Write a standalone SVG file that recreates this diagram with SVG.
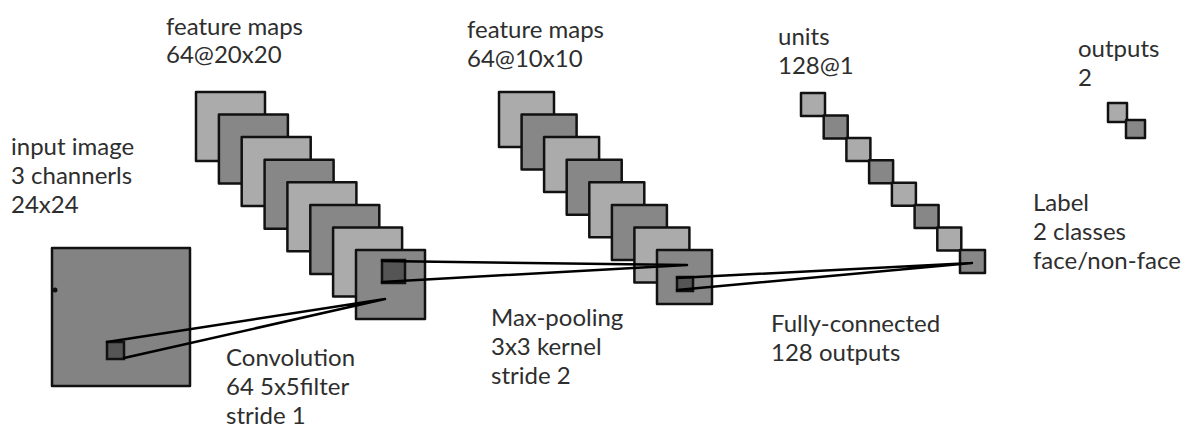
<svg xmlns="http://www.w3.org/2000/svg" width="1188" height="431" viewBox="0 0 1188 431">
  <style>
    .lbl { font-family: Lato, "Open Sans", "DejaVu Sans", sans-serif; font-size: 24px; fill: #2e2e2e; }
    .map { stroke: #111; stroke-width: 2.5; stroke-linejoin: round; }
    .lt { fill: #ababab; }
    .dk { fill: #878787; }
    .img { fill: #838383; }
    .kern { fill: #555; stroke: #111; stroke-width: 2.5; }
    .wire { stroke: #000; stroke-width: 2.5; fill: none; stroke-linecap: round; }
  </style>
  <rect width="1188" height="431" fill="#fff"/>

  <!-- input image 3 channels 24x24 -->
  <g id="input">
    <rect class="map img" x="52" y="248" width="138" height="138"/>
    <circle cx="55" cy="290" r="2.5" fill="#111"/>
    <rect class="kern" x="107" y="342" width="17" height="17"/>
    <text class="lbl" x="11" y="155">input image</text>
    <text class="lbl" x="11" y="184">3 channerls</text>
    <text class="lbl" x="11" y="213">24x24</text>
  </g>

  <!-- first convolution layer: 64 feature maps 20x20 -->
  <g id="conv1">
    <rect class="map lt" x="196" y="92" width="69" height="69"/>
    <rect class="map dk" x="218.9" y="114.6" width="69" height="69"/>
    <rect class="map lt" x="241.7" y="137.1" width="69" height="69"/>
    <rect class="map dk" x="264.6" y="159.7" width="69" height="69"/>
    <rect class="map lt" x="287.4" y="182.3" width="69" height="69"/>
    <rect class="map dk" x="310.3" y="204.9" width="69" height="69"/>
    <rect class="map lt" x="333.1" y="227.4" width="69" height="69"/>
    <rect class="map dk" x="356" y="250" width="69" height="69"/>
    <rect class="kern" x="382" y="260" width="23" height="23"/>
    <text class="lbl" x="166" y="35">feature maps</text>
    <text class="lbl" x="166" y="63">64@20x20</text>
  </g>

  <!-- pooled maps: 64 feature maps 10x10 -->
  <g id="pool1">
    <rect class="map lt" x="499" y="92" width="55" height="55"/>
    <rect class="map dk" x="521.6" y="114.6" width="55" height="55"/>
    <rect class="map lt" x="544.1" y="137.1" width="55" height="55"/>
    <rect class="map dk" x="566.7" y="159.7" width="55" height="55"/>
    <rect class="map lt" x="589.3" y="182.3" width="55" height="55"/>
    <rect class="map dk" x="611.9" y="204.9" width="55" height="55"/>
    <rect class="map lt" x="634.4" y="227.4" width="55" height="55"/>
    <rect class="map dk" x="657" y="250" width="55" height="54"/>
    <rect class="kern" x="677" y="277" width="16" height="14"/>
    <text class="lbl" x="467" y="38">feature maps</text>
    <text class="lbl" x="467" y="67">64@10x10</text>
  </g>

  <!-- fully-connected units 128@1 -->
  <g id="fc">
    <rect class="map lt" x="801" y="93" width="24" height="23"/>
    <rect class="map dk" x="823.7" y="115.4" width="24" height="23"/>
    <rect class="map lt" x="846.4" y="137.9" width="24" height="23"/>
    <rect class="map dk" x="869.1" y="160.3" width="24" height="23"/>
    <rect class="map lt" x="891.9" y="182.7" width="24" height="23"/>
    <rect class="map dk" x="914.6" y="205.1" width="24" height="23"/>
    <rect class="map lt" x="937.3" y="227.6" width="24" height="23"/>
    <rect class="map dk" x="960" y="250" width="25" height="23"/>
    <text class="lbl" x="778" y="45">units</text>
    <text class="lbl" x="778" y="74">128@1</text>
  </g>

  <!-- output layer: 2 units -->
  <g id="output">
    <rect class="map lt" x="1108" y="103" width="19" height="19"/>
    <rect class="map dk" x="1126" y="120" width="19" height="18"/>
    <text class="lbl" x="1078" y="57">outputs</text>
    <text class="lbl" x="1078" y="86">2</text>
  </g>

  <!-- operation captions -->
  <g id="conv-caption">
    <text class="lbl" x="226" y="366">Convolution</text>
    <text class="lbl" x="226" y="395">64 5x5filter</text>
    <text class="lbl" x="226" y="424">stride 1</text>
  </g>
  <g id="pool-caption">
    <text class="lbl" x="491" y="326">Max-pooling</text>
    <text class="lbl" x="491" y="355">3x3 kernel</text>
    <text class="lbl" x="491" y="384">stride 2</text>
  </g>
  <g id="fc-caption">
    <text class="lbl" x="771" y="332">Fully-connected</text>
    <text class="lbl" x="771" y="361">128 outputs</text>
  </g>
  <g id="label">
    <text class="lbl" x="1033" y="211">Label</text>
    <text class="lbl" x="1033" y="240">2 classes</text>
    <text class="lbl" x="1033" y="269">face/non-face</text>
  </g>

  <!-- receptive-field connectors between layers -->
  <g id="connectors">
    <path class="wire" d="M107 342 L385 299 M124 358 L385 299"/>
    <path class="wire" d="M382 261 L687 265 M382 282 L687 265"/>
    <path class="wire" d="M677 278 L972 263 M677 290 L972 263"/>
  </g>
</svg>
